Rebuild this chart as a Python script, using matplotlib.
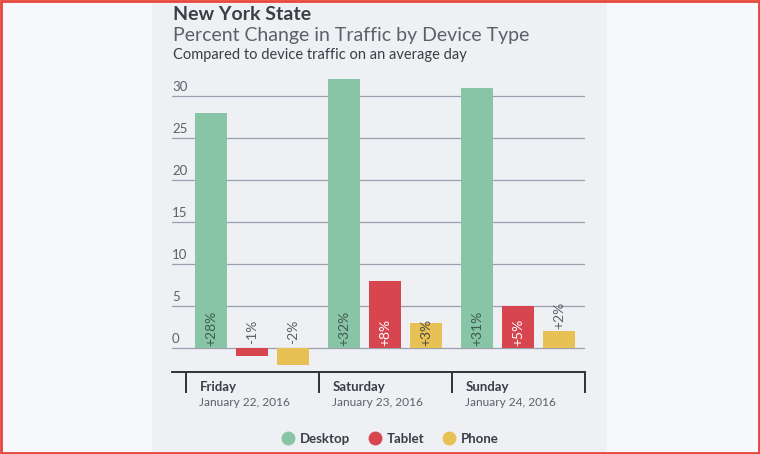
import matplotlib.pyplot as plt
from matplotlib.patches import Rectangle
from matplotlib.lines import Line2D
import numpy as np

# data
days = ["Friday", "Saturday", "Sunday"]
dates = ["January 22, 2016", "January 23, 2016", "January 24, 2016"]
devices = ["Desktop", "Tablet", "Phone"]
desktop = [28, 32, 31]
tablet = [-1, 8, 5]
phone = [-2, 3, 2]
yticks = [0, 5, 10, 15, 20, 25, 30]

colors = ["#88c4a6", "#d7454f", "#e8c155"]
label_colors = ["#3f5a4e", "#ffffff", "#4a4a4a"]
text_dark = "#3b3e45"
text_grey = "#5d6068"

plt.rcParams['font.family'] = ['Lato', 'DejaVu Sans']

W, H = 760, 454
fig = plt.figure(figsize=(W / 100, H / 100), dpi=100, facecolor="#f8f9fc")

def fx(px):
    return px / W

def fy(py):
    return 1 - py / H

# textured panel behind the chart
fig.patches.append(Rectangle((fx(152), 0), fx(607) - fx(152), 1,
                             transform=fig.transFigure, facecolor="#eef0f4",
                             edgecolor="none", zorder=-5))
# red frame
fig.patches.append(Rectangle((0.0013, 0.002), 0.9974, 0.995, transform=fig.transFigure,
                             facecolor="none", edgecolor="#e8453c", lw=2, zorder=10))

# axes: 0 at y=348px, 30 at y=96px
ax_left, ax_right, ax_top, ax_bot = 172, 585, 60, 372
ax = fig.add_axes([fx(ax_left), fy(ax_bot), fx(ax_right) - fx(ax_left),
                   fy(ax_top) - fy(ax_bot)])
ax.set_facecolor("none")
px_per_unit = 8.4
ax.set_ylim((348 - ax_bot) / px_per_unit, (348 - ax_top) / px_per_unit)
group_px = 133
ax.set_xlim((ax_left - 252) / group_px, (ax_right - 252) / group_px)

x = np.arange(len(days))
bw = 32 / group_px
off = 41 / group_px

# gridlines and tick labels
for t in yticks:
    ax.axhline(t, color="#9aa0ad", lw=0.9, zorder=1)
    ax.text(-0.6015, t + 0.35, str(t), ha="left", va="bottom", fontsize=9.5,
            color=text_grey)

series = [desktop, tablet, phone]
for k, vals in enumerate(series):
    pos = x + (k - 1) * off
    ax.bar(pos, vals, width=bw, color=colors[k], zorder=2)
    for p, v in zip(pos, vals):
        lab = f"+{v}%" if v > 0 else f"{v}%"
        if v < 0:
            ax.text(p, 0.5, lab, rotation=90, ha="center", va="bottom",
                    fontsize=10, color=text_grey, zorder=3)
        elif v >= 3:
            ax.text(p, 0.25, lab, rotation=90, ha="center", va="bottom",
                    fontsize=10, color=label_colors[k], zorder=3)
        else:
            ax.text(p, v + 0.25, lab, rotation=90, ha="center", va="bottom",
                    fontsize=10, color=text_grey, zorder=3)

for s in ["top", "left", "right"]:
    ax.spines[s].set_visible(False)
ax.spines["bottom"].set_color("#2f3238")
ax.spines["bottom"].set_linewidth(1.4)
ax.set_xticks([])
ax.set_yticks([])

# group separators below the axis
y_bot = (348 - ax_bot) / px_per_unit
y_tick = (348 - 393) / px_per_unit
for sep in np.arange(len(days) + 1) - 0.5:
    ax.plot([sep, sep], [y_bot, y_tick], color="#2f3238", lw=1.4,
            clip_on=False, solid_capstyle="butt")

for i, (d, dt) in enumerate(zip(days, dates)):
    ax.text(i - 0.395, (348 - 387) / px_per_unit, d, ha="left", va="center",
            fontsize=9.5, fontweight="bold", color=text_dark)
    ax.text(i - 0.395, (348 - 402) / px_per_unit, dt, ha="left", va="center",
            fontsize=8.6, color=text_grey)

# titles
fig.text(fx(173), fy(15), "New York State", ha="left", va="center",
         fontsize=14, fontweight="bold", color=text_dark)
fig.text(fx(173), fy(35), "Percent Change in Traffic by Device Type",
         ha="left", va="center", fontsize=14, color=text_grey)
fig.text(fx(173), fy(55), "Compared to device traffic on an average day",
         ha="left", va="center", fontsize=10.5, color=text_dark)

# legend
handles = [Line2D([], [], marker="o", ls="none", markersize=10,
                  markerfacecolor=c, markeredgecolor="none") for c in colors]
leg = fig.legend(handles, devices, loc="center", bbox_to_anchor=(fx(390), fy(439)),
                 ncol=3, frameon=False, fontsize=9.5, handletextpad=0.4,
                 columnspacing=1.4, handlelength=1.0)
for t in leg.get_texts():
    t.set_color(text_dark)
    t.set_fontweight("bold")

fig.savefig("out.png", dpi=100, facecolor=fig.get_facecolor())
